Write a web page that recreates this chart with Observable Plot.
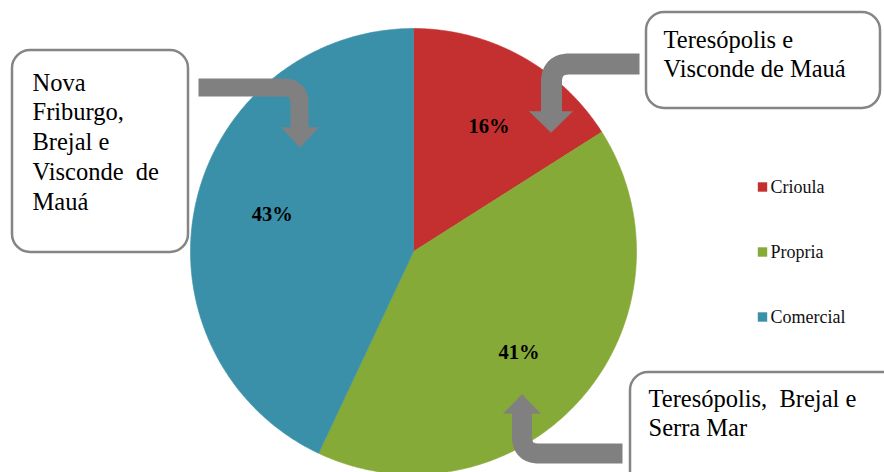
<!DOCTYPE html>
<html>
<head>
<meta charset="utf-8">
<script src="https://cdn.jsdelivr.net/npm/d3@7"></script>
<script src="https://cdn.jsdelivr.net/npm/@observablehq/plot@0.6"></script>
<style>
  html, body { margin: 0; padding: 0; background: #fff; }
  #chart svg { display: block; }
  #chart svg text { font-family: "Liberation Serif", "Times New Roman", serif !important; }
</style>
</head>
<body>
<div id="chart"></div>
<script>
// ---------- data ----------
const categories = ["Crioula", "Propria", "Comercial"];
const values = [16, 41, 43];
const percentLabels = ["16%", "41%", "43%"];
const colors = ["#C3302F", "#86AA37", "#3A90A8"];
const calloutLines = [
  ["Nova", "Friburgo,", "Brejal e", "Visconde  de", "Mauá"],
  ["Teresópolis e", "Visconde de Mauá"],
  ["Teresópolis,  Brejal e", "Serra Mar"]
];

// ---------- layout (pixels) ----------
const W = 884, H = 472;
const CX = 413, CY = 251, R = 223;
const px = p => (p - CX) / R;   // pixel x -> data x
const py = p => (CY - p) / R;   // pixel y -> data y
const SERIF = "'Liberation Serif', 'Times New Roman', serif";

const boxLayout = [
  {x1: 12, x2: 188, y1: 50, y2: 252, tx: 32, ty: 90},
  {x1: 646, x2: 880, y1: 12, y2: 108, tx: 663, ty: 47},
  {x1: 630, x2: 900, y1: 372, y2: 500, tx: 648, ty: 406}
];
const lineStep = 29.8;

const arrowLayout = [
  {start: [198, 87], corner: [299, 87], end: [299, 128], r: 16, w: 18,
   head: [[281, 127], [318, 127], [299.5, 147]]},
  {start: [639, 63.5], corner: [551, 63.5], end: [551, 112], r: 18, w: 21,
   head: [[529, 111], [572, 111], [550.5, 132]]},
  {start: [622, 453], corner: [521.5, 453], end: [521.5, 412], r: 17, w: 20,
   head: [[503, 413], [540, 413], [521.5, 394]]}
];

const legendX = 762, legendY0 = 186.5, legendStep = 65, legendTextX = 770;

// ---------- derived ----------
const pieData = categories.map((c, i) => ({cat: c, value: values[i], label: percentLabels[i]}));
const arcs = d3.pie().sort(null).value(d => d.value)(pieData);

const slicePts = [];
for (const a of arcs) {
  slicePts.push({cat: a.data.cat, x: 0, y: 0});
  const n = 240;
  for (let k = 0; k <= n; k++) {
    const t = a.startAngle + (a.endAngle - a.startAngle) * k / n;
    slicePts.push({cat: a.data.cat, x: Math.sin(t), y: Math.cos(t)});
  }
  slicePts.push({cat: a.data.cat, x: 0, y: 0});
}

const labelPts = arcs.map(a => {
  const m = (a.startAngle + a.endAngle) / 2 + 0.04;
  return {label: a.data.label, x: 0.655 * Math.sin(m), y: 0.655 * Math.cos(m)};
});

function shaftPoints(a) {
  const [sx, sy] = a.start, [cx, cy] = a.corner, [ex, ey] = a.end;
  const d1 = [Math.sign(cx - sx), Math.sign(cy - sy)];
  const d2 = [Math.sign(ex - cx), Math.sign(ey - cy)];
  const A = [cx - a.r * d1[0], cy - a.r * d1[1]];
  const B = [cx + a.r * d2[0], cy + a.r * d2[1]];
  const pts = [{x: px(sx), y: py(sy)}];
  const n = 30;
  for (let k = 0; k <= n; k++) {
    const t = k / n;
    const X = (1 - t) * (1 - t) * A[0] + 2 * (1 - t) * t * cx + t * t * B[0];
    const Y = (1 - t) * (1 - t) * A[1] + 2 * (1 - t) * t * cy + t * t * B[1];
    pts.push({x: px(X), y: py(Y)});
  }
  pts.push({x: px(ex), y: py(ey)});
  return pts;
}

const boxes = boxLayout.map(b => ({x1: px(b.x1), x2: px(b.x2), y1: py(b.y1), y2: py(b.y2)}));
const calloutText = [];
boxLayout.forEach((b, i) => {
  calloutLines[i].forEach((line, k) => {
    calloutText.push({text: line, x: px(b.tx), y: py(b.ty + k * lineStep)});
  });
});

const legendPts = categories.map((c, i) => ({cat: c, x: px(legendX), tx: px(legendTextX), y: py(legendY0 + i * legendStep)}));

const arrowMarks = [];
for (const a of arrowLayout) {
  arrowMarks.push(Plot.line(shaftPoints(a), {x: "x", y: "y", stroke: "#808080", strokeWidth: a.w, strokeLinecap: "butt", strokeLinejoin: "round"}));
  const head = a.head.concat([a.head[0]]).map(([X, Y]) => ({x: px(X), y: py(Y)}));
  arrowMarks.push(Plot.line(head, {x: "x", y: "y", fill: "#808080", stroke: "#808080", strokeWidth: 0.5}));
}

const chart = Plot.plot({
  width: W,
  height: H,
  margin: 0,
  x: {domain: [-1, 1], range: [CX - R, CX + R], axis: null},
  y: {domain: [-1, 1], range: [CY + R, CY - R], axis: null},
  color: {domain: categories, range: colors},
  style: {fontFamily: SERIF, background: "white"},
  marks: [
    Plot.line(slicePts, {x: "x", y: "y", z: "cat", fill: "cat", stroke: "cat", strokeWidth: 0.6}),
    Plot.text(labelPts, {x: "x", y: "y", text: "label", fontFamily: SERIF, fontWeight: "bold", fontSize: 20.5, fill: "#000"}),
    ...arrowMarks,
    Plot.rect(boxes, {x1: "x1", x2: "x2", y1: "y1", y2: "y2", rx: 18, ry: 18, fill: "white", stroke: "#858585", strokeWidth: 2.5}),
    Plot.text(calloutText, {x: "x", y: "y", text: "text", fontFamily: SERIF, textAnchor: "start", lineAnchor: "bottom", fontSize: 24.5, fill: "#000"}),
    Plot.dot(legendPts, {x: "x", y: "y", fill: "cat", symbol: "square", r: 5.3, stroke: "none"}),
    Plot.text(legendPts, {x: "tx", y: "y", text: "cat", fontFamily: SERIF, textAnchor: "start", fontSize: 18, fill: "#111"})
  ]
});
document.getElementById("chart").appendChild(chart);
</script>
</body>
</html>
